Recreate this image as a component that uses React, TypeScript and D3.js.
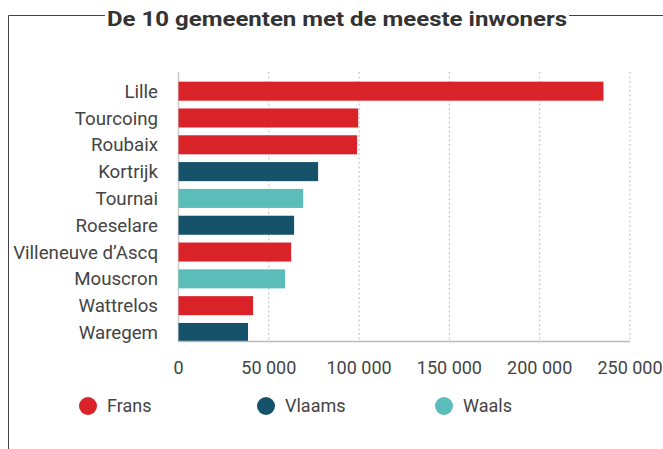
import React from "react";
import * as d3 from "d3";

const categories = ["Lille", "Tourcoing", "Roubaix", "Kortrijk", "Tournai", "Roeselare", "Villeneuve d’Ascq", "Mouscron", "Wattrelos", "Waregem"];
const values = [235300, 99500, 98900, 77300, 69000, 64000, 62400, 59000, 41300, 38500];
const groups = ["Frans", "Frans", "Frans", "Vlaams", "Waals", "Vlaams", "Frans", "Waals", "Frans", "Vlaams"];
const legendKeys = ["Frans", "Vlaams", "Waals"];
const legendColors = ["#da2229", "#16526a", "#5bbdb9"];
const xTicks = [0, 50000, 100000, 150000, 200000, 250000];
const title = "De 10 gemeenten met de meeste inwoners";

const W = 663;
const H = 449;
const FONT = "Roboto, 'Noto Sans', sans-serif";

export default function App() {
  const x = d3.scaleLinear().domain([0, 250000]).range([178.5, 630]);
  const y = d3.scaleBand<string>().domain(categories).range([72, 342]).paddingInner(0.29).paddingOuter(0.18).align(1);
  const color = d3.scaleOrdinal<string, string>().domain(legendKeys).range(legendColors);
  const fmt = (v: number) => d3.format(",")(v).replace(/,/g, " ");
  const legendX = [88, 266, 444];

  return (
    <svg width={W} height={H} style={{ position: "absolute", left: 0, top: 0, fontFamily: FONT }}>
      <rect width={W} height={H} fill="#fff" />
      {/* frame */}
      <line x1={8.5} x2={8.5} y1={15.5} y2={H} stroke="#444" strokeWidth={1} />
      <line x1={8.5} x2={105} y1={15.5} y2={15.5} stroke="#444" strokeWidth={1} />
      <line x1={569} x2={W} y1={15.5} y2={15.5} stroke="#444" strokeWidth={1} />
      <text x={337} y={26} textAnchor="middle" fontSize={21} fontWeight={700} fill="#333" textLength={460} lengthAdjust="spacingAndGlyphs">{title}</text>

      {/* grid */}
      {xTicks.slice(1).map((t) => (
        <line key={t} x1={x(t)} x2={x(t)} y1={72} y2={342} stroke="#bdbdbd" strokeWidth={1} strokeDasharray="2,2.5" />
      ))}
      <line x1={178.5} x2={178.5} y1={72} y2={342} stroke="#ccc" strokeWidth={1.5} />

      {/* bars */}
      {categories.map((c, i) => (
        <rect key={c} x={x(0)} y={y(c)} width={x(values[i]) - x(0)} height={y.bandwidth()} fill={color(groups[i])} />
      ))}
      <line x1={178} x2={630} y1={341.5} y2={341.5} stroke="#bbb" strokeWidth={1.5} />

      {/* category labels */}
      {categories.map((c) => (
        <text key={c} x={158} y={(y(c) as number) + y.bandwidth() / 2} dy="0.35em" textAnchor="end" fontSize={18.7} fill="#444">{c}</text>
      ))}

      {/* x tick labels */}
      {xTicks.map((t) => (
        <text key={t} x={x(t)} y={368} dy="0.35em" textAnchor="middle" fontSize={18} fill="#444">{fmt(t)}</text>
      ))}

      {/* legend */}
      {legendKeys.map((k, i) => (
        <g key={k}>
          <circle cx={legendX[i]} cy={406} r={9} fill={legendColors[i]} />
          <text x={legendX[i] + 19} y={406} dy="0.35em" fontSize={18} fill="#444">{k}</text>
        </g>
      ))}
    </svg>
  );
}
